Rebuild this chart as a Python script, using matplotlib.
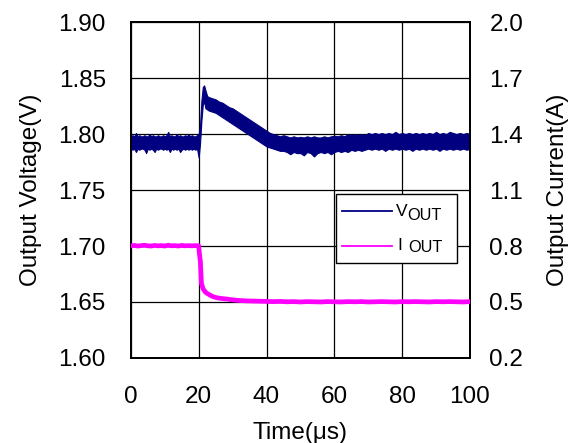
import matplotlib
matplotlib.use('Agg')
import matplotlib.pyplot as plt
from matplotlib.patches import Rectangle

plt.rcParams['font.family'] = ['Liberation Sans', 'DejaVu Sans']

# Output voltage trace, read as upper / lower envelope of the noisy band
t_v = [0, 0.5, 1, 1.5, 2, 2.5, 3, 3.5, 4, 4.5, 5, 5.5, 6, 6.5, 7, 7.5, 8, 8.5, 9, 9.5,
       10, 10.5, 11, 11.5, 12, 12.5, 13, 13.5, 14, 14.5, 15, 15.5, 16, 16.5, 17, 17.5,
       18, 18.5, 19, 19.5, 20, 20.4, 20.8, 21.2, 21.6, 22, 22.5, 23, 24, 25, 26, 27,
       28, 29, 30, 31, 32, 33, 34, 35, 36, 37, 38, 39, 40, 41, 42, 43, 44, 45,
       46, 47, 48, 49, 50, 51, 52, 53, 54, 55, 56, 57, 58, 59, 60,
       61, 62, 63, 64, 65, 66, 67, 68, 69, 70, 71, 72, 73, 74, 75,
       76, 77, 78, 79, 80, 81, 82, 83, 84, 85, 86, 87, 88, 89, 90,
       91, 92, 93, 94, 95, 96, 97, 98, 99, 100]
v_hi = [1.798, 1.799, 1.798, 1.801, 1.798, 1.799, 1.798, 1.798, 1.799, 1.798,
        1.798, 1.800, 1.798, 1.799, 1.798, 1.798, 1.799, 1.798, 1.798, 1.799,
        1.798, 1.799, 1.802, 1.798, 1.799, 1.798, 1.798, 1.800, 1.798, 1.799,
        1.798, 1.798, 1.799, 1.798, 1.800, 1.798, 1.799, 1.798, 1.798, 1.799,
        1.800, 1.808, 1.830, 1.842, 1.8435, 1.839, 1.834, 1.833, 1.832, 1.831,
        1.829, 1.828, 1.826, 1.824, 1.823, 1.821, 1.819, 1.817, 1.815, 1.813,
        1.811, 1.809, 1.807, 1.805, 1.803, 1.801, 1.800, 1.799, 1.798, 1.799,
        1.798, 1.797, 1.798, 1.797, 1.7975, 1.797, 1.798, 1.797, 1.798, 1.797,
        1.797, 1.798, 1.797, 1.798, 1.7985, 1.798, 1.799, 1.798, 1.800, 1.799,
        1.800, 1.799, 1.800, 1.799, 1.801, 1.800, 1.801, 1.800, 1.801, 1.800,
        1.801, 1.800, 1.802, 1.800, 1.801, 1.800, 1.801, 1.800, 1.801, 1.800,
        1.801, 1.800, 1.801, 1.800, 1.802, 1.800, 1.801, 1.800, 1.802, 1.801,
        1.800, 1.801, 1.800, 1.801, 1.800]
v_lo = [1.787, 1.786, 1.787, 1.784, 1.787, 1.786, 1.787, 1.787, 1.786, 1.783,
        1.787, 1.786, 1.787, 1.786, 1.784, 1.787, 1.786, 1.787, 1.787, 1.786,
        1.787, 1.786, 1.787, 1.784, 1.787, 1.786, 1.787, 1.786, 1.787, 1.784,
        1.786, 1.787, 1.786, 1.787, 1.786, 1.787, 1.786, 1.787, 1.786, 1.787,
        1.779, 1.792, 1.812, 1.826, 1.829, 1.823, 1.822, 1.821, 1.820, 1.819,
        1.817, 1.815, 1.813, 1.811, 1.809, 1.807, 1.805, 1.803, 1.801, 1.799,
        1.797, 1.795, 1.793, 1.791, 1.789, 1.788, 1.787, 1.786, 1.785, 1.785,
        1.784, 1.782, 1.784, 1.783, 1.783, 1.781, 1.784, 1.783, 1.780, 1.783,
        1.784, 1.783, 1.784, 1.782, 1.784, 1.785, 1.784, 1.785, 1.784, 1.786,
        1.785, 1.786, 1.785, 1.786, 1.787, 1.786, 1.787, 1.786, 1.787, 1.785,
        1.787, 1.786, 1.787, 1.786, 1.787, 1.786, 1.787, 1.785, 1.787, 1.786,
        1.787, 1.786, 1.787, 1.786, 1.787, 1.785, 1.787, 1.786, 1.787, 1.786,
        1.787, 1.786, 1.787, 1.786, 1.787]

# Output current trace
t_i = [0, 1, 2, 3, 4, 5, 6, 7, 8, 9, 10, 11, 12, 13, 14, 15, 16, 17, 18, 19,
       20, 20.2, 20.5, 20.8, 21.3, 22, 22.5, 23.3, 24.3, 25.5, 27, 28.2, 30,
       32, 34, 36, 38, 40, 42, 44, 46, 48, 50, 52, 54, 56, 58, 60,
       62, 64, 66, 68, 70, 72, 74, 76, 78, 80, 82, 84, 86, 88, 90,
       92, 94, 96, 98, 100]
i_out = [0.801, 0.803, 0.800, 0.802, 0.804, 0.801, 0.800, 0.803, 0.801, 0.802,
         0.800, 0.804, 0.801, 0.802, 0.800, 0.803, 0.801, 0.802, 0.801, 0.802,
         0.801, 0.760, 0.716, 0.600, 0.570, 0.552, 0.546, 0.537, 0.528, 0.522,
         0.518, 0.516, 0.511, 0.508, 0.506, 0.505, 0.504, 0.503, 0.502, 0.503,
         0.501, 0.502, 0.500, 0.502, 0.501, 0.500, 0.502, 0.501,
         0.500, 0.502, 0.501, 0.502, 0.500, 0.501, 0.502, 0.501, 0.500, 0.502,
         0.501, 0.502, 0.501, 0.500, 0.502, 0.501, 0.502, 0.501, 0.500, 0.502]

x_ticks = [0, 20, 40, 60, 80, 100]
v_ticks = [1.60, 1.65, 1.70, 1.75, 1.80, 1.85, 1.90]
i_ticks = [0.2, 0.5, 0.8, 1.1, 1.4, 1.7, 2.0]

navy = '#000080'
magenta = '#FF00FF'
fs = 17.5

fig = plt.figure(figsize=(5.69, 4.43), dpi=100)
ax = fig.add_axes([0.230, 0.192, 0.596, 0.758])
ax2 = ax.twinx()

ax.fill_between(t_v, v_lo, v_hi, color=navy, linewidth=0.8, edgecolor=navy, zorder=3)
ax2.plot(t_i, i_out, color=magenta, linewidth=3.4, zorder=3)

ax.set_xlim(0, 100)
ax.set_ylim(1.60, 1.90)
ax2.set_ylim(0.2, 2.0)
ax.set_xticks(x_ticks)
ax.set_yticks(v_ticks)
ax.set_yticklabels([f'{v:.2f}' for v in v_ticks])
ax2.set_yticks(i_ticks)
ax2.set_yticklabels([f'{v:.1f}' for v in i_ticks])

ax.grid(True, color='black', linewidth=0.9)
ax.set_axisbelow(True)
ax.tick_params(axis='both', length=0, labelsize=fs)
ax.tick_params(axis='y', pad=18)
ax.tick_params(axis='x', pad=20)
ax2.tick_params(axis='y', length=0, labelsize=fs, pad=14)
for a in (ax, ax2):
    for s in a.spines.values():
        s.set_linewidth(1.3)

ax.set_xlabel('Time(μs)', fontsize=fs, labelpad=10)
ax.set_ylabel('Output Voltage(V)', fontsize=fs, labelpad=12)
ax2.set_ylabel('Output Current(A)', fontsize=fs, labelpad=17)

ax2.set_zorder(ax.get_zorder() + 1)
ax2.patch.set_visible(False)

# legend box drawn by hand so the OUT subscripts can be sized like the original
ax2.add_patch(Rectangle((0.605, 0.283), 0.357, 0.205, transform=ax2.transAxes,
                        facecolor='white', edgecolor='black', linewidth=1.0, zorder=5))
ax2.plot([0.622, 0.770], [0.4375, 0.4375], transform=ax2.transAxes,
         color=navy, linewidth=1.3, zorder=6)
ax2.plot([0.622, 0.770], [0.333, 0.333], transform=ax2.transAxes,
         color=magenta, linewidth=1.3, zorder=6)
ax2.text(0.783, 0.424, 'V', transform=ax2.transAxes, fontsize=12.5,
         va='baseline', ha='left', zorder=6)
ax2.text(0.815, 0.411, 'OUT', transform=ax2.transAxes, fontsize=11.8,
         va='baseline', ha='left', zorder=6)
ax2.text(0.785, 0.321, 'I', transform=ax2.transAxes, fontsize=12.5,
         va='baseline', ha='left', zorder=6)
ax2.text(0.818, 0.316, 'OUT', transform=ax2.transAxes, fontsize=11.8,
         va='baseline', ha='left', zorder=6)

fig.savefig('out.png', dpi=100)
